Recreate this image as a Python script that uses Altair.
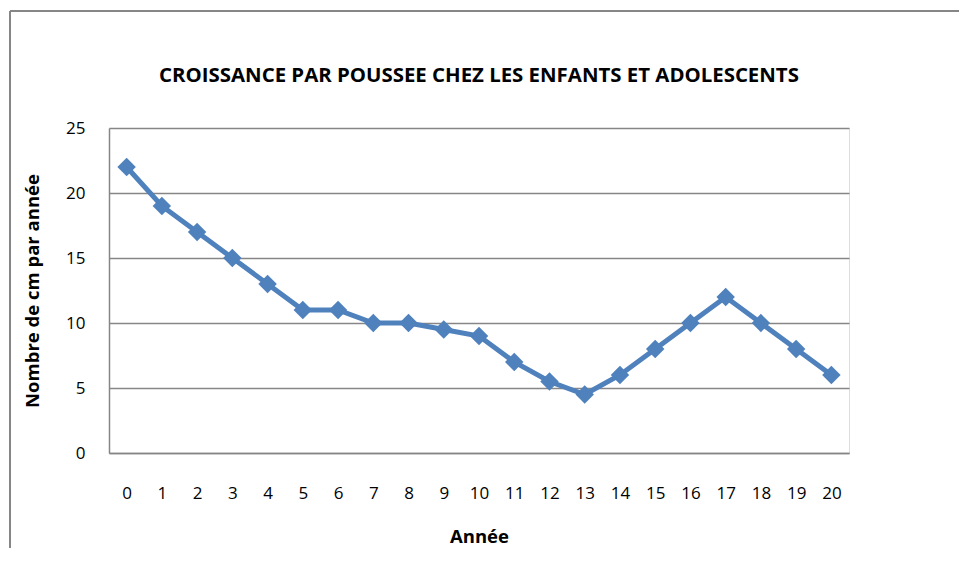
import altair as alt
import pandas as pd

years = [0, 1, 2, 3, 4, 5, 6, 7, 8, 9, 10, 11, 12, 13, 14, 15, 16, 17, 18, 19, 20]
values = [22, 19, 17, 15, 13, 11, 11, 10, 10, 9.5, 9, 7, 5.5, 4.5, 6, 8, 10, 12, 10, 8, 6]
y_ticks = [0, 5, 10, 15, 20, 25]

df = pd.DataFrame({"annee": years, "cm": values})

W, H = 740, 325
FONT = "Open Sans"
BLUE = "#4F81BD"
GRAY = "#868686"

x_enc = alt.X(
    "annee:O",
    scale=alt.Scale(padding=0.5),
    axis=alt.Axis(
        title="Année", labelAngle=0, ticks=False, domainColor=GRAY, domainWidth=1.5,
        labelPadding=32, titlePadding=26, labelFontSize=17, titleFontSize=18.5,
        titleFontWeight="bold", labelColor="#000", titleColor="#000",
        labelFont=FONT, titleFont=FONT,
    ),
)
y_enc = alt.Y(
    "cm:Q",
    scale=alt.Scale(domain=[0, 25], nice=False),
    axis=alt.Axis(
        title="Nombre de cm par année", values=y_ticks, ticks=False,
        domainColor=GRAY, domainWidth=1.5, gridColor=GRAY, gridWidth=1.5,
        labelPadding=24, titlePadding=23, labelFontSize=17, titleFontSize=18.5,
        titleFontWeight="bold", labelColor="#000", titleColor="#000",
        labelFont=FONT, titleFont=FONT,
    ),
)

base = alt.Chart(df)
line = base.mark_line(color=BLUE, strokeWidth=5).encode(x=x_enc, y=y_enc)
pts = base.mark_point(shape="diamond", filled=True, size=340, color=BLUE, opacity=1).encode(
    x="annee:O", y="cm:Q"
)

frame_df = pd.DataFrame({"k": [0]})
left_rule = alt.Chart(frame_df).mark_rule(color=GRAY, strokeWidth=2).encode(
    x=alt.value(-99), y=alt.value(-117), y2=alt.value(H + 100)
)
top_rule = alt.Chart(frame_df).mark_rule(color=GRAY, strokeWidth=2).encode(
    x=alt.value(-99), x2=alt.value(W + 115), y=alt.value(-117)
)

chart = (
    alt.layer(left_rule, top_rule, line, pts)
    .properties(
        width=W,
        height=H,
        padding={"left": 101, "top": 120, "right": 110, "bottom": 95},
        autosize=alt.AutoSizeParams(type="none"),
        title=alt.TitleParams(
            "CROISSANCE PAR POUSSEE CHEZ LES ENFANTS ET ADOLESCENTS",
            fontSize=20.4, fontWeight="bold", font=FONT, color="#000",
            anchor="middle", baseline="alphabetic", offset=0, dy=92, frame="group",
        ),
    )
    .configure_view(stroke=None)
    .configure(background="white")
)

chart.save("out.html", embed_options={"renderer": "svg", "actions": False})
